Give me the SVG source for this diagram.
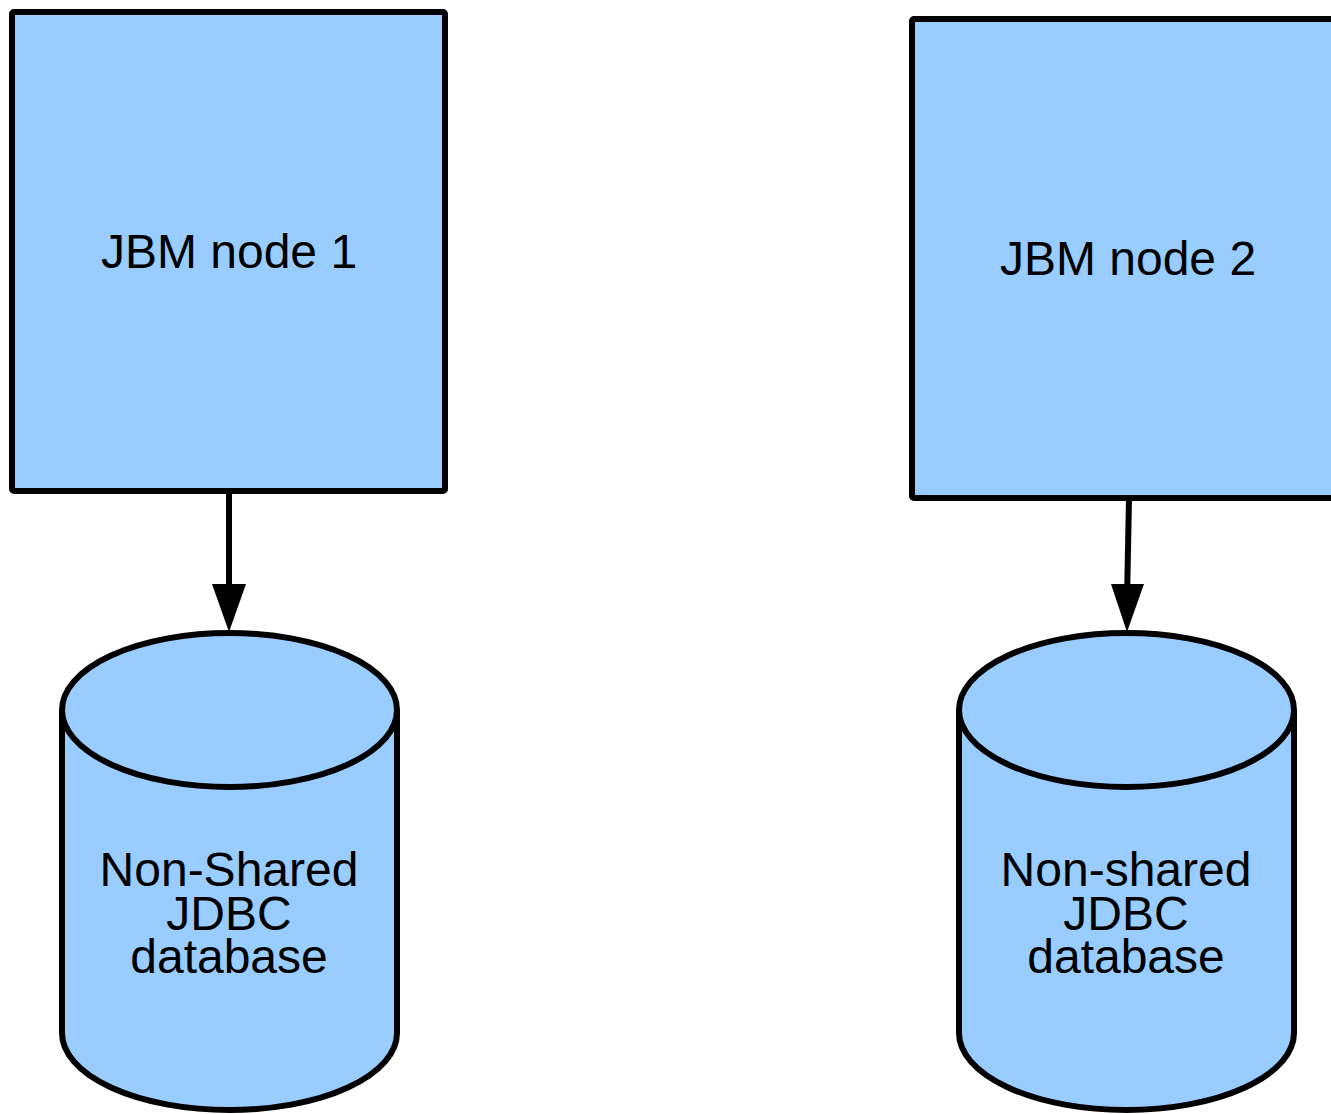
<svg xmlns="http://www.w3.org/2000/svg" width="1331" height="1114" viewBox="0 0 1331 1114">
<style>
.box{fill:#99ccff;stroke:#000;stroke-width:6;stroke-linejoin:round}
.cyl{fill:#99ccff;stroke:#000;stroke-width:6}
.lbl{font-family:"Liberation Sans",Arial,sans-serif;font-size:48px;fill:#000;text-anchor:middle}
.edge{stroke:#000;stroke-width:6;fill:none}
</style>
<rect width="1331" height="1114" fill="#fff"/>
<g id="node1">
<rect class="box" x="12" y="12" width="433" height="479" rx="2"/>
<text class="lbl" x="229" y="268">JBM node 1</text>
</g>
<g id="node2">
<rect class="box" x="912" y="19" width="433" height="479" rx="2"/>
<text class="lbl" x="1128" y="275">JBM node 2</text>
</g>
<g id="db1">
<path class="cyl" d="M62,710 L62,1033 A167.5,77 0 0 0 397,1033 L397,710 A167.5,77 0 0 0 62,710 Z"/>
<path class="cyl" d="M62,710 A167.5,77 0 0 0 397,710" fill="none"/>
<text class="lbl" x="229" y="886">Non-Shared</text>
<text class="lbl" x="229" y="930">JDBC</text>
<text class="lbl" x="229" y="973">database</text>
</g>
<g id="db2">
<path class="cyl" d="M959,710 L959,1033 A167.5,77 0 0 0 1294,1033 L1294,710 A167.5,77 0 0 0 959,710 Z"/>
<path class="cyl" d="M959,710 A167.5,77 0 0 0 1294,710" fill="none"/>
<text class="lbl" x="1126" y="886">Non-shared</text>
<text class="lbl" x="1126" y="930">JDBC</text>
<text class="lbl" x="1126" y="973">database</text>
</g>
<g id="connectors">
<line class="edge" x1="229" y1="491" x2="229" y2="590"/>
<path d="M212,584 L246,584 L229,632 Z" fill="#000"/>
<line class="edge" x1="1129" y1="498" x2="1127.2" y2="590"/>
<path d="M1111,584 L1144,584 L1127,632 Z" fill="#000"/>
</g>
</svg>
